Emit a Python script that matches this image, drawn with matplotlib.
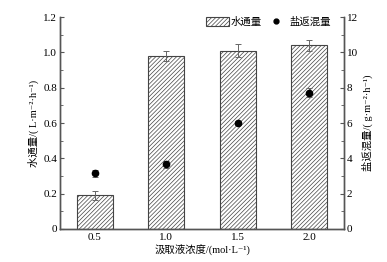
import numpy as np
import matplotlib
matplotlib.use('Agg')
import matplotlib.pyplot as plt
from matplotlib.ticker import MultipleLocator, FuncFormatter

plt.rcParams['font.family'] = ['Liberation Serif', 'Noto Sans CJK SC', 'DejaVu Serif']
plt.rcParams['hatch.color'] = '#555555'
plt.rcParams['hatch.linewidth'] = 0.5

concs = ['0.5', '1.0', '1.5', '2.0']
water_flux = [0.19, 0.98, 1.01, 1.04]
water_err = [0.025, 0.03, 0.035, 0.03]
salt_flux = [3.15, 3.66, 6.0, 7.71]
salt_err = [0.2, 0.2, 0.1, 0.25]

fig = plt.figure(figsize=(3.87, 2.62), dpi=100)
ax = fig.add_axes([0.155, 0.126, 0.734, 0.809])
x = np.arange(len(concs))

ax.bar(x, water_flux, 0.5, color='white', edgecolor='#444444', linewidth=0.8,
       hatch='////////', label='水通量', zorder=2)
ax.errorbar(x, water_flux, yerr=water_err, fmt='none', ecolor='#666666',
            elinewidth=0.7, capsize=2, capthick=0.7, zorder=3)
ax.set_xlim(-0.49, 3.49)
ax.set_ylim(0, 1.2)
ax.set_xticks(x)
ax.set_xticklabels(concs)
ax.yaxis.set_major_locator(MultipleLocator(0.2))
ax.yaxis.set_minor_locator(MultipleLocator(0.1))
ax.yaxis.set_major_formatter(FuncFormatter(lambda v, p: '0' if abs(v) < 1e-9 else f'{v:.1f}'))

ax2 = ax.twinx()
ax2.errorbar(x, salt_flux, yerr=salt_err, fmt='o', color='black', ms=4.5,
             ecolor='#666666', elinewidth=0.7, capsize=2, capthick=0.7,
             label='盐返混量', zorder=4)
ax2.set_ylim(0, 12)
ax2.yaxis.set_major_locator(MultipleLocator(2))
ax2.yaxis.set_minor_locator(MultipleLocator(1))

for a in (ax, ax2):
    a.spines['top'].set_visible(False)
    for s in a.spines.values():
        s.set_color('#555555')
        s.set_linewidth(1.0)
    a.tick_params(axis='y', which='both', direction='in', color='#555555',
                  labelsize=8, pad=2)
    a.tick_params(axis='y', which='major', length=3)
    a.tick_params(axis='y', which='minor', length=2)
    a.tick_params(axis='x', length=0, labelsize=8, pad=3)

ax.set_xlabel('汲取液浓度/(mol·L⁻¹)', fontsize=7.5, labelpad=2)
ax.set_ylabel('水通量/( L·m⁻²·h⁻¹)', fontsize=7.5, labelpad=3)
ax2.set_ylabel('盐返混量/( g·m⁻²·h⁻¹)', fontsize=7.5, labelpad=3)

h1, l1 = ax.get_legend_handles_labels()
h2, l2 = ax2.get_legend_handles_labels()
h2 = [plt.Line2D([], [], marker='o', ls='none', color='black', ms=3.5)]
ax2.legend(h1 + h2, l1 + l2, loc='upper right', ncol=2, frameon=False,
           fontsize=7.5, handlelength=2.2, handleheight=0.9, handletextpad=0.2,
           columnspacing=0.3, bbox_to_anchor=(0.97, 1.02), borderaxespad=0)

fig.savefig('out.png', dpi=100)
